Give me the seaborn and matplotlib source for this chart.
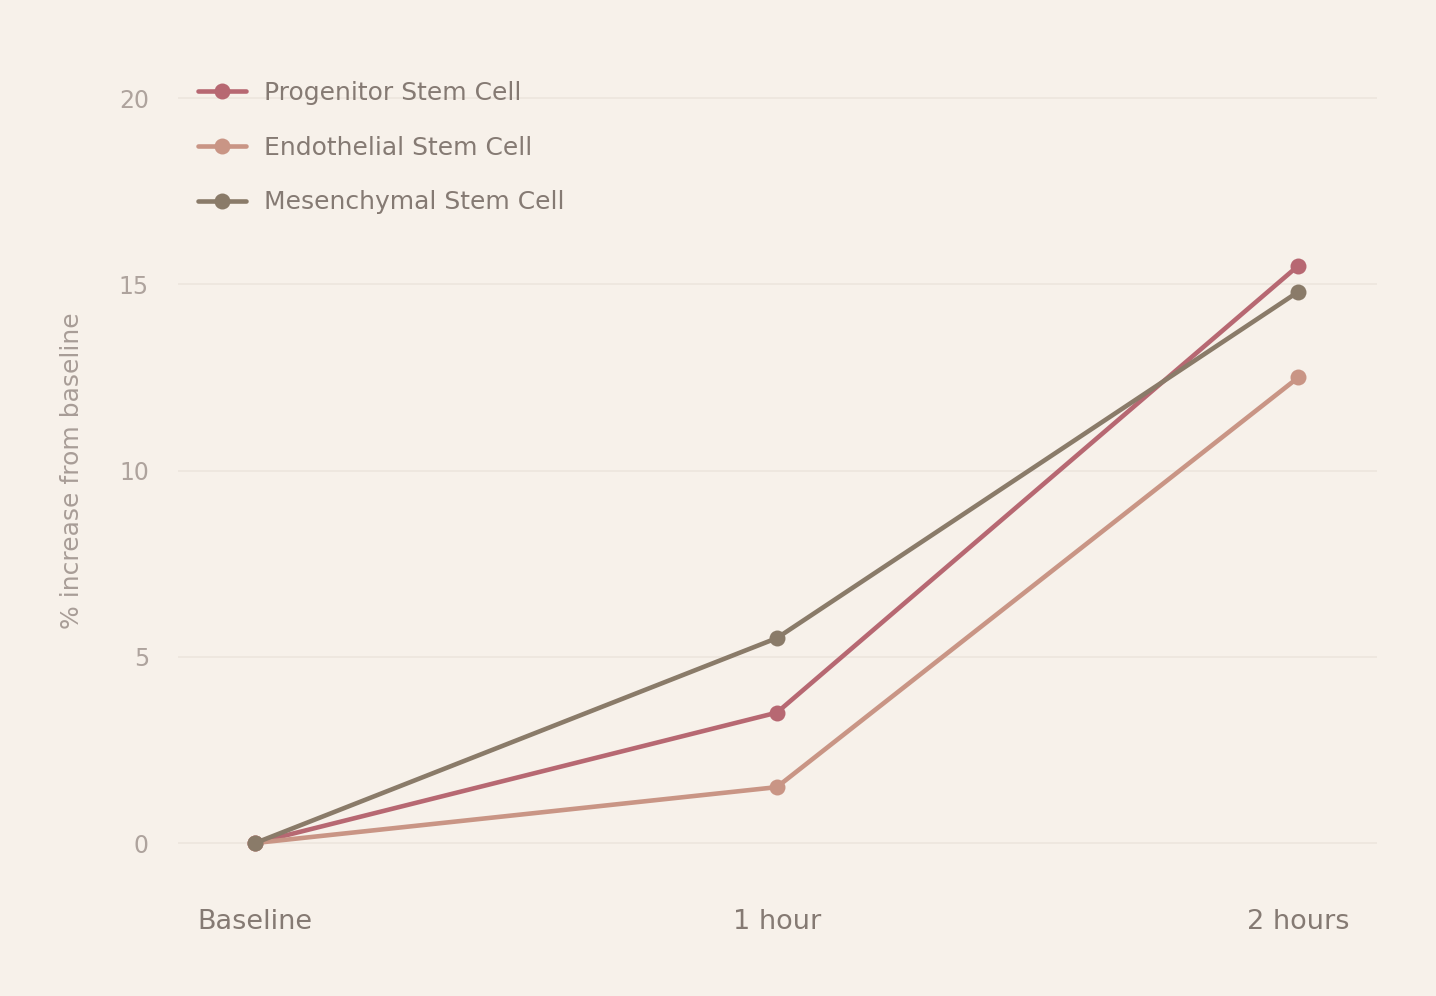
import matplotlib
matplotlib.use("Agg")
import matplotlib.pyplot as plt
import seaborn as sns
import pandas as pd

time_points = ["Baseline", "1 hour", "2 hours"]
progenitor = [0, 3.5, 15.5]
endothelial = [0, 1.5, 12.5]
mesenchymal = [0, 5.5, 14.8]
series_names = ["Progenitor Stem Cell", "Endothelial Stem Cell", "Mesenchymal Stem Cell"]
colors = ["#b76872", "#c99585", "#8a7b69"]
y_ticks = [0, 5, 10, 15, 20]

bg = "#f7f1ea"
sns.set_theme(style="white")
plt.rcParams['font.family'] = ['DejaVu Sans']

rows = []
for name, vals in zip(series_names, [progenitor, endothelial, mesenchymal]):
    for i, (t, v) in enumerate(zip(time_points, vals)):
        rows.append({"pos": i, "time": t, "value": v, "series": name})
df = pd.DataFrame(rows)

fig = plt.figure(figsize=(14.36, 9.96), dpi=100, facecolor=bg)
ax = fig.add_axes([0.124, 0.1162, 0.835, 0.8228], facecolor=bg)

sns.lineplot(data=df, x="pos", y="value", hue="series", hue_order=series_names,
             palette=colors, marker="o", markersize=11.5, markeredgewidth=0,
             linewidth=3.3, sort=False, ax=ax)

ax.set_xlim(-0.148, 2.151)
ax.set_ylim(-1, 21)
ax.set_xticks(range(len(time_points)))
ax.set_xticklabels(time_points)
ax.set_yticks(y_ticks)
ax.tick_params(axis="x", labelsize=19.5, colors="#857a73", length=0, pad=21)
ax.tick_params(axis="y", labelsize=17, colors="#aea39d", length=0, pad=21)
ax.set_xlabel("")
ax.set_ylabel("% increase from baseline", fontsize=18, color="#a89d97", labelpad=25)
ax.grid(axis="y", color="#ede5dd", linewidth=1.2)
ax.grid(axis="x", visible=False)
for s in ax.spines.values():
    s.set_visible(False)

leg = ax.legend(loc="upper left", bbox_to_anchor=(-0.002, 1.003), frameon=False,
                fontsize=18, handlelength=1.9, handletextpad=0.72,
                labelspacing=1.23, borderaxespad=0.5)
for t in leg.get_texts():
    t.set_color("#857a73")

fig.savefig("out.png", dpi=100, facecolor=bg)
